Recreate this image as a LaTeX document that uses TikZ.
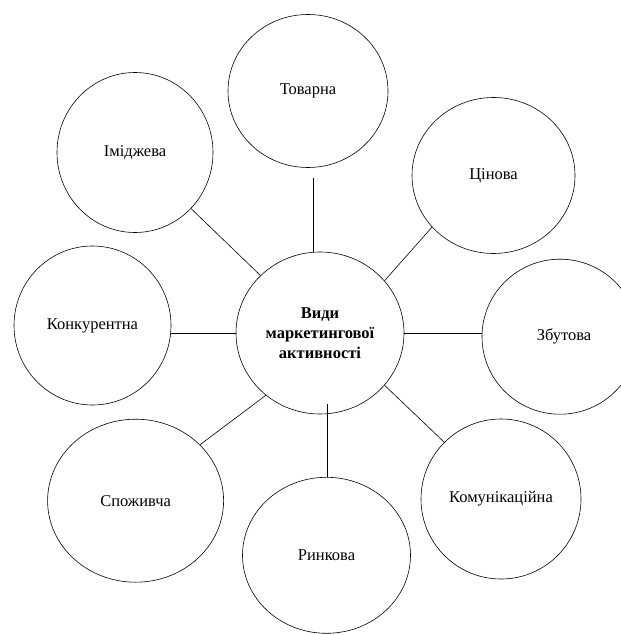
\documentclass[tikz,border=0pt]{standalone}
\usepackage{fontspec}
\setmainfont{Liberation Serif}
\usetikzlibrary{shapes.geometric}

\begin{document}
\begin{tikzpicture}[x=1bp, y=-1bp, font=\fontsize{16.5bp}{19.7bp}\selectfont]
        \useasboundingbox (0,0) rectangle (621,635);
        \tikzstyle{Kind} = [draw, ellipse, line width=0.6pt, inner sep=0pt, minimum width=160bp, minimum height=158bp]
        \tikzstyle{Link} = [line width=0.6pt]
        \node[Kind, minimum width=168bp, minimum height=162bp, align=center, font=\fontsize{16.5bp}{19.7bp}\selectfont\bfseries] (C) at (320,333) {Види\\маркетингової\\активності};
        \node[Kind, minimum height=153bp] (Tovar) at (308,91) {Товарна};
        \node[Kind, minimum width=156bp, minimum height=160bp] (Imidzh) at (135,152.5) {Іміджева};
        \node[Kind, minimum width=163bp, minimum height=156bp] (Tsin) at (493.5,175.5) {Цінова};
        \node[Kind, minimum width=157bp, minimum height=159bp] (Konk) at (92.5,325.5) {Конкурентна\hspace{13bp}};
        \node[Kind, minimum width=156bp, minimum height=155bp] (Zbut) at (560,336.7) {\hspace{8bp}Збутова};
        \node[Kind, minimum width=176bp, minimum height=163bp] (Spozh) at (135.6,500.7) {Споживча\hspace{53bp}};
        \node[Kind, minimum width=168bp, minimum height=156bp] (Rynk) at (326.5,555.3) {Ринкова};
        \node[Kind, minimum height=160bp] (Komun) at (501,499) {Комунікаційна};
        \draw[Link, shorten >=10bp] (C.95) -- (C.95 |- Tovar.south);
        \draw[Link] (Imidzh.315) -- (C.136);
        \draw[Link] (Tsin.220) -- (C.39);
        \draw[Link] (C.west) -- (C.west -| Konk.east);
        \draw[Link] (C.east) -- (C.east -| Zbut.west);
        \draw[Link] (Spozh.41) -- (C.229);
        \draw[Link, shorten <=-10bp] (C.275) -- (C.275 |- Rynk.north);
        \draw[Link] (C.321) -- (Komun.135);
    \end{tikzpicture}
\end{document}
